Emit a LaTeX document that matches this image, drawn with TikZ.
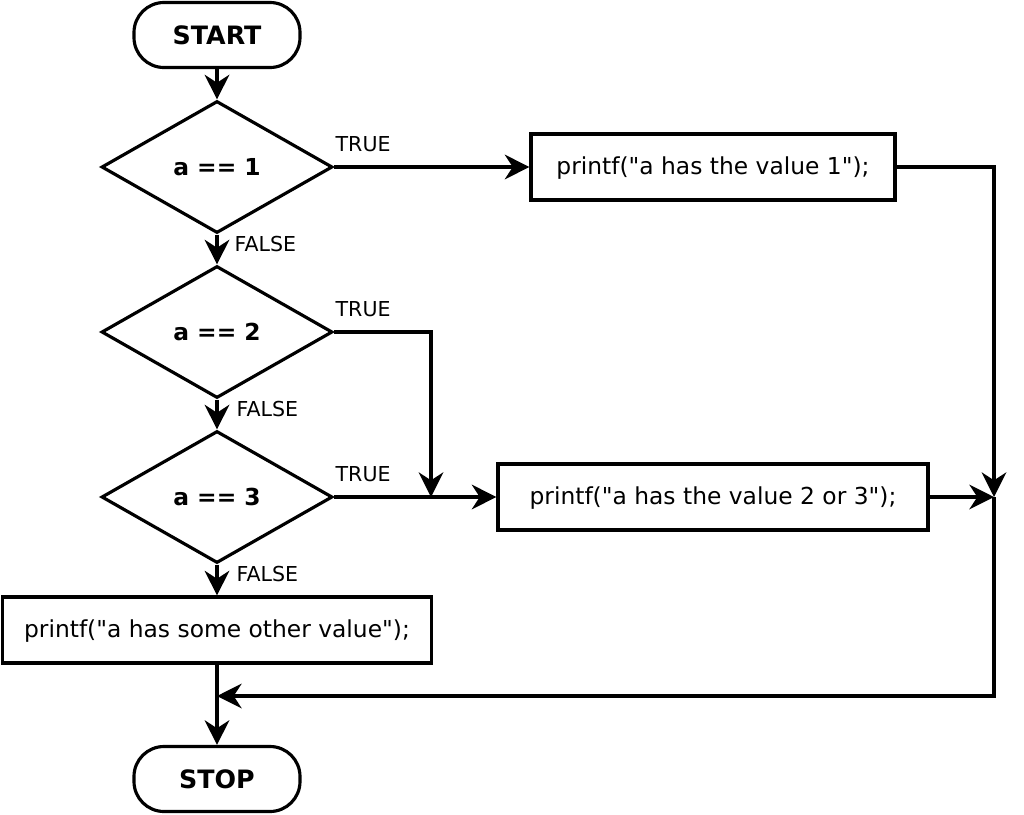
\documentclass[tikz,border=0pt]{standalone}
\usepackage{fontspec}
\setmainfont{DejaVu Sans}[Ligatures=TeXOff]
\usepackage{tikz}
\usetikzlibrary{shapes.geometric,arrows.meta,positioning,calc}

\begin{document}
\begin{tikzpicture}[
  terminal/.style={
    rectangle, draw, line width=1.8pt, rounded corners=0.6cm,
    minimum width=3.32cm, minimum height=1.30cm, align=center,
    font=\fontsize{14.4}{17}\selectfont\bfseries
  },
  decision/.style={
    diamond, draw, line width=1.8pt, inner sep=0pt,
    minimum width=4.62cm, minimum height=2.64cm,
    font=\fontsize{13.3}{16}\selectfont\bfseries
  },
  process/.style={
    rectangle, draw, line width=1.8pt,
    minimum height=1.32cm, align=center, text depth=0.25ex,
    font=\fontsize{13.3}{16}\selectfont
  },
  lbl/.style={inner sep=0pt, font=\fontsize{11.7}{14}\selectfont},
  arr/.style={-{Stealth[length=14pt, width=14pt, inset=4.5pt]}, line width=1.8pt}
]
\useasboundingbox (0,0) rectangle (20.48,-16.30);

% --- Start and the three tests (left column)
\node[terminal] (start) at (4.34,-0.70)  {START};
\node[decision] (test1) at (4.34,-3.34)  {a == 1};
\node[decision] (test2) at (4.34,-6.64)  {a == 2};
\node[decision] (test3) at (4.34,-9.94)  {a == 3};

% --- Actions
\node[process, minimum width=7.28cm] (print1)  at (14.26,-3.34)  {printf("a has the value 1");};
\node[process, minimum width=8.60cm] (print23) at (14.26,-9.94)  {printf("a has the value 2 or 3");};
\node[process, minimum width=8.58cm] (printx)  at (4.34,-12.60)  {printf("a has some other value");};
\node[terminal] (stop) at (4.34,-15.58) {STOP};

% --- Join points
\coordinate (merge2) at (8.62,-9.94);
\coordinate (join)   at (19.88,-9.94);
\coordinate (turn)   at (19.88,-13.92);
\coordinate (back)   at (4.34,-13.92);

% --- Flow
\draw[arr] (start) -- (test1);
\draw[arr] (test1.east) -- node[lbl, pos=0, anchor=south west, xshift=0pt, yshift=8pt] {TRUE} (print1.west);
\draw[arr] (test1) -- node[lbl, pos=0, anchor=north west, xshift=0.32cm, yshift=0cm] {FALSE} (test2);
\draw[arr] (test2.east) -| node[lbl, pos=0, anchor=south west, xshift=0pt, yshift=8pt] {TRUE} (merge2);
\draw[arr] (test2) -- node[lbl, pos=0, anchor=north west, xshift=0.36cm, yshift=0cm] {FALSE} (test3);
\draw[arr] (test3.east) -- node[lbl, pos=0, anchor=south west, xshift=0pt, yshift=8pt] {TRUE} (print23.west);
\draw[arr] (test3) -- node[lbl, pos=0, anchor=north west, xshift=0.36cm, yshift=0cm] {FALSE} (printx);
\draw[arr] (print1.east) -| (join);
\draw[arr] (print23.east) -- (join);
\draw[arr] (join) -- (turn) -- (back);
\draw[arr] (printx) -- (stop);

\end{tikzpicture}
\end{document}
